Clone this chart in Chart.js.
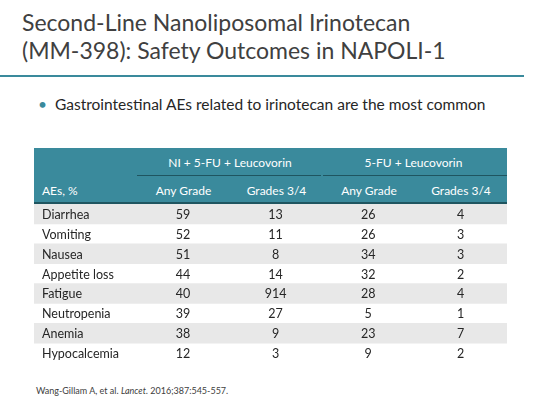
<!DOCTYPE html><html><head><meta charset="utf-8">
<script src="https://cdn.jsdelivr.net/npm/chart.js@4"></script>
<style>
body{margin:0;width:540px;height:405px;background:#fff;font-family:Lato,sans-serif;position:relative;overflow:hidden;color:#404040}
.a{position:absolute}
#t{left:22px;top:8px;font-size:23px;line-height:28px;color:#404040}
#ln{left:0;top:75px;width:524px;height:2px;background:#3a8a9c}
#b{left:38px;top:95px;font-size:15.5px;color:#262626}
#hd{left:34px;top:148px;width:473px;height:54px;background:#3a8a9c;color:#fff;font-size:12px}
#src{left:36px;top:385px;font-size:9px}
canvas{position:absolute;left:0;top:0}
</style></head><body>
<div class="a" id="t">Second-Line Nanoliposomal Irinotecan<br>(MM-398): Safety Outcomes in NAPOLI-1</div>
<div class="a" id="ln"></div>
<div class="a" id="b"><span style="color:#3a8a9c">•</span>&nbsp; Gastrointestinal AEs related to irinotecan are the most common</div>
<div class="a" id="hd">
<div class="a" style="left:103px;width:186px;top:7px;text-align:center">NI + 5-FU + Leucovorin</div>
<div class="a" style="left:286px;width:187px;top:7px;text-align:center">5-FU + Leucovorin</div>
<div class="a" style="left:103px;width:184px;top:27px;height:1px;background:#1f5560"></div>
<div class="a" style="left:289px;width:184px;top:27px;height:1px;background:#1f5560"></div>
<div class="a" style="left:8px;top:35px">AEs, %</div>
<div class="a" style="left:103px;width:93px;top:35px;text-align:center">Any Grade</div>
<div class="a" style="left:196px;width:93px;top:35px;text-align:center">Grades 3/4</div>
<div class="a" style="left:289px;width:92px;top:35px;text-align:center">Any Grade</div>
<div class="a" style="left:381px;width:92px;top:35px;text-align:center">Grades 3/4</div>
</div>
<div class="a" style="left:34px;top:202px;width:473px;height:2px;background:#1f5560"></div>
<div class="a" id="src">Wang-Gillam A, et al. <i>Lancet</i>. 2016;387:545-557.</div>
<canvas id="c" width="540" height="405"></canvas>
<script>
const categories=["Diarrhea","Vomiting","Nausea","Appetite loss","Fatigue","Neutropenia","Anemia","Hypocalcemia"];
const niAny=[59,52,51,44,40,39,38,12];
const niG34=["13","11","8","14","914","27","9","3"];
const fuAny=[26,26,34,32,28,5,23,9];
const fuG34=[4,3,3,2,4,1,7,2];
const cols=[niAny,niG34,fuAny,fuG34];
const LW=1.11, XMAX=LW+4;
const stripe=categories.map((c,i)=>i%2===0?[0,XMAX]:null);
const textPlugin={id:'txt',afterDatasetsDraw(ch){
 const {ctx,scales:{x,y}}=ch;ctx.save();ctx.fillStyle='#262626';ctx.font='12.5px Lato,sans-serif';ctx.textBaseline='middle';
 categories.forEach((c,i)=>{const py=y.getPixelForValue(i)+1;
  ctx.textAlign='left';ctx.fillText(c,x.getPixelForValue(0)+8,py);
  ctx.textAlign='center';cols.forEach((col,j)=>ctx.fillText(String(col[i]),x.getPixelForValue(LW+j+0.5),py));});
 ctx.restore();}};
new Chart(document.getElementById('c'),{type:'bar',
 data:{labels:categories,datasets:[{data:stripe,backgroundColor:'#e8e8e8',barPercentage:1,categoryPercentage:1,borderSkipped:false}]},
 options:{indexAxis:'y',responsive:false,animation:false,
  layout:{padding:{left:34,right:33,top:204,bottom:42}},
  plugins:{legend:{display:false},tooltip:{enabled:false}},
  scales:{x:{type:'linear',min:0,max:XMAX,display:false},y:{display:false}}},
 plugins:[textPlugin]});
</script></body></html>
